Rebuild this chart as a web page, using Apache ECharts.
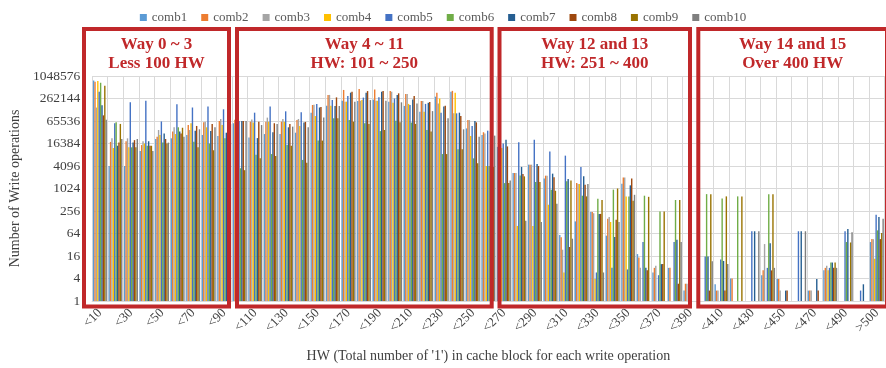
<!DOCTYPE html>
<html>
<head>
<meta charset="utf-8">
<script src="https://cdn.jsdelivr.net/npm/echarts@6/dist/echarts.min.js"></script>
<style>html,body{margin:0;padding:0;background:#fff;}#c{width:886px;height:368px;}</style>
</head>
<body>
<div id="c"></div>
<script>
const categories = ['<10','<20','<30','<40','<50','<60','<70','<80','<90','<100','<110','<120','<130','<140','<150','<160','<170','<180','<190','<200','<210','<220','<230','<240','<250','<260','<270','<280','<290','<300','<310','<320','<330','<340','<350','<360','<370','<380','<390','<400','<410','<420','<430','<440','<450','<460','<470','<480','<490','<500','>500'];
const yTicks = [1, 4, 16, 64, 256, 1024, 4096, 16384, 65536, 262144, 1048576];
const seriesNames = ['comb1','comb2','comb3','comb4','comb5','comb6','comb7','comb8','comb9','comb10'];

const comb1 = [794000,4096,4096,10370,21630,22530,27740,27740,25890,57050,23820,29330,29330,31870,109450,168230,228200,225100,244600,215880,165940,115700,292900,397400,41480,27740,13310,2665,4452,1884,58,135,242,56,1370,18,5.8,7.7,1.9,0,2.8,4,0,4.9,3.9,0,1.9,6.6,0,0,37.8];
const comb2 = [741000,18050,18830,14870,24840,34160,51070,60300,65540,70250,62870,62870,62870,69270,175370,327150,443800,469200,456400,414200,346000,225100,375900,420000,69270,32770,15290,2665,4452,2257,50.6,1428,242,160,2019,14.7,7.7,7.7,2.9,0,1.9,4,0,6.6,3.9,0,1.9,7.7,0,0,45.3];
const comb3 = [150000,22530,22530,18830,37630,44450,37630,62870,74250,86500,72240,80680,74250,74250,177800,327150,215880,228200,228200,397400,346000,225100,193300,105000,69270,30570,13680,2665,4452,2257,23.6,1352,223,176,2019,7.7,8.8,0,2.9,0,1.9,0,0,33.4,1.9,0,1.9,8.8,0,0,45];
const comb4 = [773000,12415,12940,16384,27740,29330,57050,44450,51070,65536,59480,62870,62870,48310,88930,168230,215880,237900,228200,201400,187960,115700,262144,375900,25890,4096,12415,102,102,377,5.8,1352,3.9,130,630,0,0,0,0,0,0,0,0,0,0,0,0,6.6,0,0,13.5];
const comb5 = [397400,57050,207100,228200,63740,182800,150500,159100,134750,65536,109450,159100,118950,112530,187960,237900,305400,277100,281000,262144,175370,187960,109450,105000,48310,36110,16384,17560,20740,10085,7750,3875,5.8,7.7,7,37.8,4.9,37.8,0,15.5,12.8,0,73.5,7.7,0,73.5,0,7.7,73.5,1.9,202];
const comb6 = [692000,60300,12940,14260,17320,44450,18300,16384,22530,3566,8135,8540,14870,5956,19610,77400,69270,57050,35130,66450,59480,37630,8540,11430,6562,4096,1428,2288,1531,955,1595,657,541,955,630,657,249,505,214,724,549,630,0,724,0,0,0,10.7,37.8,0,77.7];
const comb7 = [174000,14260,17320,18830,30570,34160,36110,35600,31870,65536,22850,32770,44450,59480,150500,165940,375900,375900,397400,327150,248000,201400,159100,109450,65536,34640,20740,3875,4641,2557,1833,2165,214,51.3,1243,7.7,9.7,43.4,0,15.5,11.8,0,73.5,35.3,1.9,73.5,3.9,10.7,84.5,2.8,176];
const comb8 = [92700,17320,20170,14260,21630,30570,48310,54720,57050,65536,62870,57050,54720,62000,154800,281000,397400,414200,414200,360450,305400,210000,168230,88930,60300,30570,13680,2521,4096,2048,27.9,1296,214,149,1884,6.6,9.7,2.9,0,1.9,1.9,0,0,6.6,1.9,0,1.9,7.7,0,0,45.3];
const comb9 = [578000,54720,12940,14260,16384,43240,12940,10810,18830,3165,6562,7537,14260,5042,19610,77400,62870,54720,37630,60300,54720,34160,8540,11430,4838,3875,1428,2165,1531,891,1664,630,505,1024,478,613,249,505,0,724,630,630,0,724,0,0,0,10.7,36.8,0,65.8];
const comb10 = [70300,21630,21630,10370,17320,24840,39240,44450,54720,65536,51070,54720,46340,44450,81790,165940,215880,237900,228200,207100,193300,120600,77400,39240,24840,26620,1664,141,130,399,46.5,1352,5.8,130,694,0,0,37.8,0,11.5,9.8,0,73.5,7.7,0,73.5,0,7.7,69.6,0,160];

const boxTitles = [['Way 0 ~ 3','Less 100 HW'],['Way 4 ~ 11','HW: 101 ~ 250'],['Way 12 and 13','HW: 251 ~ 400'],['Way 14 and 15','Over 400 HW']];

const allValues = [comb1,comb2,comb3,comb4,comb5,comb6,comb7,comb8,comb9,comb10];
const colors = ['#5B9BD5','#ED7D31','#A5A5A5','#FFC000','#4472C4','#70AD47','#255E91','#9E480E','#997300','#7F7F7F'];
const serif = 'Liberation Serif';
const red = '#C0282A';

// annotation boxes (pixel layout)
const boxes = [
  {x: 84, w: 145},
  {x: 237, w: 254.7},
  {x: 499.5, w: 190.5},
  {x: 698.3, w: 188.7}
];
const boxTop = 29, boxBottom = 306.5;
const graphics = [];
boxes.forEach((b, i) => {
  graphics.push({type: 'rect', z: 100, silent: true,
    shape: {x: b.x, y: boxTop, width: b.w, height: boxBottom - boxTop},
    style: {fill: 'rgba(0,0,0,0)', stroke: red, lineWidth: 4}});
  const cx = b.x + b.w / 2;
  graphics.push({type: 'text', z: 101, silent: true, x: cx, y: 44.5,
    style: {text: boxTitles[i][0], fill: red, font: 'bold 17px "Liberation Serif"', textAlign: 'center', textVerticalAlign: 'middle'}});
  graphics.push({type: 'text', z: 101, silent: true, x: cx, y: 64,
    style: {text: boxTitles[i][1], fill: red, font: 'bold 17px "Liberation Serif"', textAlign: 'center', textVerticalAlign: 'middle'}});
});

const chart = echarts.init(document.getElementById('c'), null, {renderer: 'canvas'});
chart.setOption({
  animation: false,
  color: colors,
  textStyle: {fontFamily: serif},
  legend: {
    top: 6, left: 'center',
    icon: 'rect', itemWidth: 7, itemHeight: 7, itemGap: 14,
    textStyle: {fontFamily: serif, fontSize: 13, color: '#595959'},
    data: seriesNames
  },
  grid: {left: 89, right: 1.4, top: 76, bottom: 67, containLabel: false},
  xAxis: {
    type: 'category',
    data: categories,
    name: "HW (Total number of '1') in cache block for each write operation",
    nameLocation: 'middle', nameGap: 48,
    nameTextStyle: {fontFamily: serif, fontSize: 14, color: '#404040'},
    axisLine: {show: true, lineStyle: {color: '#D9D9D9'}},
    axisTick: {show: false},
    axisLabel: {interval: 1, rotate: 45, margin: 10, fontFamily: serif, fontSize: 13, color: '#404040'},
    splitLine: {show: true, interval: 0, lineStyle: {color: '#D9D9D9', width: 1}}
  },
  yAxis: {
    type: 'log', logBase: 4, min: yTicks[0], max: yTicks[yTicks.length - 1], interval: 1,
    name: 'Number of Write operations',
    nameLocation: 'middle', nameGap: 66,
    nameTextStyle: {fontFamily: serif, fontSize: 14, color: '#404040'},
    axisLine: {show: false}, axisTick: {show: false},
    axisLabel: {margin: 12, fontFamily: serif, fontSize: 13.5, color: '#404040',
      formatter: v => String(Math.round(v))},
    splitLine: {show: true, lineStyle: {color: '#D9D9D9', width: 1}}
  },
  series: seriesNames.map((n, i) => ({
    name: n, type: 'bar',
    barGap: '0%', barCategoryGap: '10%',
    data: allValues[i].map(v => v > 0 ? v : null)
  })),
  graphic: graphics
});
</script>
</body>
</html>
